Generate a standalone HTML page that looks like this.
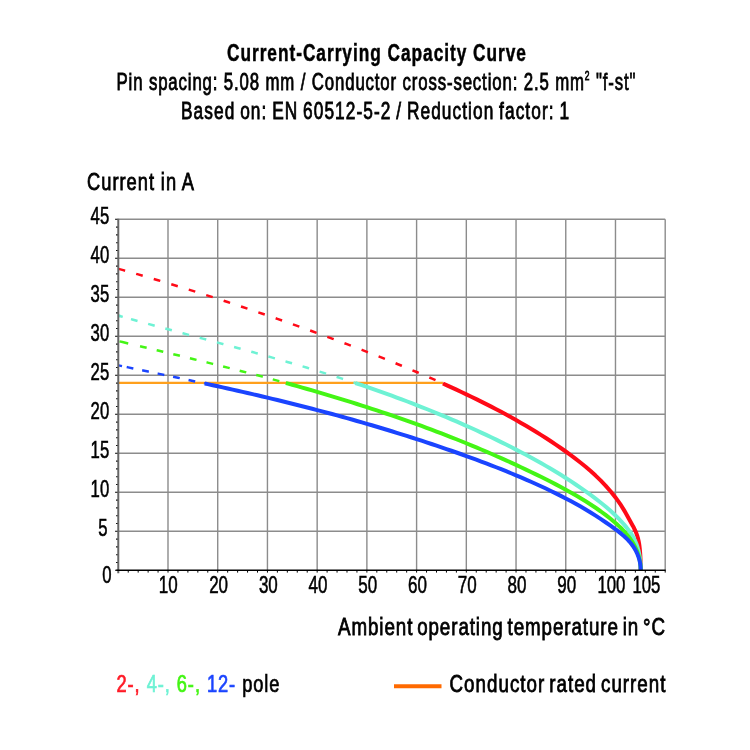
<!DOCTYPE html>
<html><head><meta charset="utf-8"><style>
html,body{margin:0;padding:0;background:#fff;}
svg{display:block;will-change:transform;}
text{font-family:'Liberation Sans',sans-serif;}

</style></head><body>
<svg width="750" height="750" viewBox="0 0 750 750">
<rect width="750" height="750" fill="#fff"/>
<path d="M168.00,219.30 V570.30 M217.72,219.30 V570.30 M267.44,219.30 V570.30 M317.16,219.30 V570.30 M366.88,219.30 V570.30 M416.60,219.30 V570.30 M466.32,219.30 V570.30 M516.04,219.30 V570.30 M565.76,219.30 V570.30 M615.48,219.30 V570.30 M665.20,219.30 V570.30 M118.28,531.30 H665.20 M118.28,492.30 H665.20 M118.28,453.30 H665.20 M118.28,414.30 H665.20 M118.28,375.30 H665.20 M118.28,336.30 H665.20 M118.28,297.30 H665.20 M118.28,258.30 H665.20 M118.28,219.30 H665.20" stroke="#8c8c8c" stroke-width="1.4" fill="none"/>
<path d="M115.08,570.30 H118.28 M116.08,562.50 H118.28 M116.08,554.70 H118.28 M116.08,546.90 H118.28 M116.08,539.10 H118.28 M115.08,531.30 H118.28 M116.08,523.50 H118.28 M116.08,515.70 H118.28 M116.08,507.90 H118.28 M116.08,500.10 H118.28 M115.08,492.30 H118.28 M116.08,484.50 H118.28 M116.08,476.70 H118.28 M116.08,468.90 H118.28 M116.08,461.10 H118.28 M115.08,453.30 H118.28 M116.08,445.50 H118.28 M116.08,437.70 H118.28 M116.08,429.90 H118.28 M116.08,422.10 H118.28 M115.08,414.30 H118.28 M116.08,406.50 H118.28 M116.08,398.70 H118.28 M116.08,390.90 H118.28 M116.08,383.10 H118.28 M115.08,375.30 H118.28 M116.08,367.50 H118.28 M116.08,359.70 H118.28 M116.08,351.90 H118.28 M116.08,344.10 H118.28 M115.08,336.30 H118.28 M116.08,328.50 H118.28 M116.08,320.70 H118.28 M116.08,312.90 H118.28 M116.08,305.10 H118.28 M115.08,297.30 H118.28 M116.08,289.50 H118.28 M116.08,281.70 H118.28 M116.08,273.90 H118.28 M116.08,266.10 H118.28 M115.08,258.30 H118.28 M116.08,250.50 H118.28 M116.08,242.70 H118.28 M116.08,234.90 H118.28 M116.08,227.10 H118.28 M115.08,219.30 H118.28" stroke="#000" stroke-width="1.1" fill="none"/>
<path d="M128.22,570.30 v2.3 M138.17,570.30 v2.3 M148.11,570.30 v2.3 M158.06,570.30 v2.3 M168.00,570.30 v2.3 M177.94,570.30 v2.3 M187.89,570.30 v2.3 M197.83,570.30 v2.3 M207.78,570.30 v2.3 M217.72,570.30 v2.3 M227.66,570.30 v2.3 M237.61,570.30 v2.3 M247.55,570.30 v2.3 M257.50,570.30 v2.3 M267.44,570.30 v2.3 M277.38,570.30 v2.3 M287.33,570.30 v2.3 M297.27,570.30 v2.3 M307.22,570.30 v2.3 M317.16,570.30 v2.3 M327.10,570.30 v2.3 M337.05,570.30 v2.3 M346.99,570.30 v2.3 M356.94,570.30 v2.3 M366.88,570.30 v2.3 M376.82,570.30 v2.3 M386.77,570.30 v2.3 M396.71,570.30 v2.3 M406.66,570.30 v2.3 M416.60,570.30 v2.3 M426.54,570.30 v2.3 M436.49,570.30 v2.3 M446.43,570.30 v2.3 M456.38,570.30 v2.3 M466.32,570.30 v2.3 M476.26,570.30 v2.3 M486.21,570.30 v2.3 M496.15,570.30 v2.3 M506.10,570.30 v2.3 M516.04,570.30 v2.3 M525.98,570.30 v2.3 M535.93,570.30 v2.3 M545.87,570.30 v2.3 M555.82,570.30 v2.3 M565.76,570.30 v2.3 M575.70,570.30 v2.3 M585.65,570.30 v2.3 M595.59,570.30 v2.3 M605.54,570.30 v2.3 M615.48,570.30 v2.3 M625.42,570.30 v2.3 M635.37,570.30 v2.3 M645.31,570.30 v2.3 M655.26,570.30 v2.3 M665.20,570.30 v2.3" stroke="#000" stroke-width="1" fill="none"/>
<path d="M118.28,382.85 H442.95" stroke="#ffa01c" stroke-width="2.4" fill="none"/>
<path d="M118.28,268.78 L123.25,270.17 L128.22,271.57 L133.20,272.98 L138.17,274.41 L143.14,275.84 L148.11,277.29 L153.08,278.76 L158.06,280.23 L163.03,281.72 L168.00,283.22 L172.97,284.73 L177.94,286.25 L182.92,287.78 L187.89,289.32 L192.86,290.88 L197.83,292.44 L202.80,294.02 L207.78,295.60 L212.75,297.20 L217.72,298.81 L222.69,300.42 L227.66,302.05 L232.64,303.69 L237.61,305.34 L242.58,307.00 L247.55,308.66 L252.52,310.34 L257.50,312.03 L262.47,313.72 L267.44,315.43 L272.41,317.15 L277.38,318.88 L282.36,320.61 L287.33,322.36 L292.30,324.12 L297.27,325.89 L302.24,327.67 L307.22,329.46 L312.19,331.25 L317.16,333.07 L322.13,334.89 L327.10,336.72 L332.08,338.56 L337.05,340.42 L342.02,342.29 L346.99,344.17 L351.96,346.06 L356.94,347.97 L361.91,349.89 L366.88,351.82 L371.85,353.77 L376.82,355.73 L381.80,357.71 L386.77,359.70 L391.74,361.71 L396.71,363.74 L401.68,365.78 L406.66,367.84 L411.63,369.92 L416.60,372.02 L421.57,374.14 L426.54,376.28 L431.52,378.45 L436.49,380.64 L441.46,382.85 L442.95,383.52" stroke="#ff0a17" stroke-width="2.5" fill="none" stroke-dasharray="6.8 11.50" stroke-dashoffset="18.0"/>
<path d="M118.28,315.60 L123.25,317.00 L128.22,318.40 L133.20,319.78 L138.17,321.16 L143.14,322.52 L148.11,323.88 L153.08,325.24 L158.06,326.59 L163.03,327.93 L168.00,329.27 L172.97,330.61 L177.94,331.94 L182.92,333.28 L187.89,334.61 L192.86,335.94 L197.83,337.27 L202.80,338.60 L207.78,339.93 L212.75,341.27 L217.72,342.60 L222.69,343.94 L227.66,345.29 L232.64,346.63 L237.61,347.99 L242.58,349.35 L247.55,350.71 L252.52,352.08 L257.50,353.46 L262.47,354.85 L267.44,356.25 L272.41,357.65 L277.38,359.07 L282.36,360.50 L287.33,361.94 L292.30,363.38 L297.27,364.85 L302.24,366.32 L307.22,367.81 L312.19,369.31 L317.16,370.83 L322.13,372.36 L327.10,373.91 L332.08,375.47 L337.05,377.05 L342.02,378.65 L346.99,380.26 L351.96,381.90 L355.25,382.99" stroke="#6ef2d4" stroke-width="2.5" fill="none" stroke-dasharray="6.8 11.00" stroke-dashoffset="4.62"/>
<path d="M118.53,315.67 L119.94,316.07 L121.35,316.47 L122.75,316.86" stroke="#6ef2d4" stroke-width="2.5" fill="none"/>
<path d="M130.21,343.93 L133.20,344.64 L138.17,345.82 L143.14,347.00 L148.11,348.18 L153.08,349.37 L158.06,350.55 L163.03,351.74 L168.00,352.93 L172.97,354.13 L177.94,355.33 L182.92,356.53 L187.89,357.74 L192.86,358.95 L197.83,360.17 L202.80,361.39 L207.78,362.62 L212.75,363.86 L217.72,365.10 L222.69,366.35 L227.66,367.61 L232.64,368.87 L237.61,370.15 L242.58,371.43 L247.55,372.72 L252.52,374.02 L257.50,375.33 L262.47,376.65 L267.44,377.97 L272.41,379.31 L277.38,380.66 L282.36,382.02 L285.84,382.98" stroke="#44f515" stroke-width="2.5" fill="none" stroke-dasharray="6.8 10.30" stroke-dashoffset="7.0"/>
<path d="M119.52,341.40 L122.42,342.09 L125.32,342.78 L128.22,343.46" stroke="#44f515" stroke-width="2.5" fill="none"/>
<path d="M118.28,365.33 L123.25,366.36 L128.22,367.40 L133.20,368.43 L138.17,369.46 L143.14,370.50 L148.11,371.53 L153.08,372.56 L158.06,373.60 L163.03,374.64 L168.00,375.68 L172.97,376.72 L177.94,377.77 L182.92,378.82 L187.89,379.88 L192.86,380.94 L197.83,382.00 L202.80,383.07 L204.79,383.50" stroke="#1a44ff" stroke-width="2.5" fill="none" stroke-dasharray="6.8 9.00" stroke-dashoffset="7.21"/>
<path d="M118.53,365.38 L119.69,365.62 L120.85,365.86 L122.01,366.10" stroke="#1a44ff" stroke-width="2.5" fill="none"/>
<path d="M442.95,383.52 L446.43,385.09 L451.40,387.35 L456.38,389.64 L461.35,391.97 L466.32,394.32 L471.29,396.71 L476.26,399.13 L481.24,401.59 L486.21,404.09 L491.18,406.63 L496.15,409.21 L501.12,411.84 L506.10,414.52 L511.07,417.26 L516.04,420.04 L521.01,422.89 L525.98,425.80 L530.96,428.76 L535.93,431.79 L540.90,434.89 L545.87,438.05 L550.84,441.28 L555.82,444.59 L560.79,447.99 L565.76,451.49 L570.73,455.10 L575.70,458.84 L580.68,462.73 L585.65,466.79 L590.62,471.06 L595.59,475.58 L600.56,480.39 L605.54,485.57 L610.51,491.21 L615.48,497.43 L616.72,499.10 L617.97,500.82 L619.21,502.60 L620.45,504.44 L621.70,506.35 L622.94,508.33 L624.18,510.40 L625.42,512.56 L626.67,514.78 L627.91,517.04 L629.15,519.28 L630.40,521.49 L631.64,523.69 L632.88,525.92 L634.12,528.28 L635.37,530.92 L635.62,531.50 L635.87,532.10 L636.11,532.71 L636.36,533.35 L636.61,534.01 L636.86,534.71 L637.11,535.43 L637.36,536.20 L637.61,537.02 L637.85,537.89 L638.10,538.84 L638.35,539.87 L638.60,541.00 L638.85,542.25 L639.10,543.67 L639.35,545.28 L639.59,547.16 L639.84,549.39 L640.09,552.13 L640.34,555.72 L640.59,561.16 L640.74,570.30" stroke="#ff0a17" stroke-width="4.0" fill="none" stroke-linejoin="round"/>
<path d="M355.25,382.99 L356.94,383.55 L361.91,385.22 L366.88,386.91 L371.85,388.63 L376.82,390.36 L381.80,392.12 L386.77,393.90 L391.74,395.70 L396.71,397.52 L401.68,399.37 L406.66,401.25 L411.63,403.15 L416.60,405.07 L421.57,407.02 L426.54,409.00 L431.52,411.01 L436.49,413.04 L441.46,415.10 L446.43,417.19 L451.40,419.30 L456.38,421.44 L461.35,423.62 L466.32,425.81 L471.29,428.04 L476.26,430.30 L481.24,432.60 L486.21,434.92 L491.18,437.27 L496.15,439.66 L501.12,442.09 L506.10,444.55 L511.07,447.06 L516.04,449.60 L521.01,452.18 L525.98,454.82 L530.96,457.50 L535.93,460.23 L540.90,463.01 L545.87,465.86 L550.84,468.77 L555.82,471.75 L560.79,474.81 L565.76,477.95 L570.73,481.18 L575.70,484.49 L580.68,487.89 L585.65,491.37 L590.62,494.95 L595.59,498.63 L600.56,502.47 L605.54,506.49 L610.51,510.78 L615.48,515.43 L616.72,516.66 L617.97,517.93 L619.21,519.22 L620.45,520.54 L621.70,521.88 L622.94,523.26 L624.18,524.67 L625.42,526.12 L626.67,527.62 L627.91,529.18 L629.15,530.83 L630.40,532.57 L631.64,534.46 L632.88,536.52 L634.12,538.81 L635.37,541.43 L635.62,542.00 L635.87,542.60 L636.11,543.21 L636.36,543.85 L636.61,544.51 L636.86,545.20 L637.11,545.92 L637.36,546.67 L637.61,547.46 L637.85,548.30 L638.10,549.18 L638.35,550.11 L638.60,551.11 L638.85,552.18 L639.10,553.33 L639.35,554.60 L639.59,556.00 L639.84,557.59 L640.09,559.45 L640.34,561.75 L640.59,565.04 L640.74,570.30" stroke="#6ef2d4" stroke-width="4.0" fill="none" stroke-linejoin="round"/>
<path d="M285.84,382.98 L287.33,383.39 L292.30,384.78 L297.27,386.17 L302.24,387.58 L307.22,389.00 L312.19,390.44 L317.16,391.88 L322.13,393.34 L327.10,394.82 L332.08,396.31 L337.05,397.81 L342.02,399.33 L346.99,400.86 L351.96,402.41 L356.94,403.98 L361.91,405.56 L366.88,407.16 L371.85,408.78 L376.82,410.41 L381.80,412.06 L386.77,413.73 L391.74,415.42 L396.71,417.13 L401.68,418.85 L406.66,420.60 L411.63,422.37 L416.60,424.15 L421.57,425.96 L426.54,427.79 L431.52,429.64 L436.49,431.52 L441.46,433.42 L446.43,435.34 L451.40,437.28 L456.38,439.25 L461.35,441.25 L466.32,443.27 L471.29,445.32 L476.26,447.40 L481.24,449.50 L486.21,451.63 L491.18,453.78 L496.15,455.96 L501.12,458.16 L506.10,460.39 L511.07,462.64 L516.04,464.92 L521.01,467.23 L525.98,469.57 L530.96,471.94 L535.93,474.34 L540.90,476.78 L545.87,479.26 L550.84,481.79 L555.82,484.36 L560.79,486.99 L565.76,489.69 L570.73,492.45 L575.70,495.30 L580.68,498.23 L585.65,501.28 L590.62,504.45 L595.59,507.77 L600.56,511.24 L605.54,514.89 L610.51,518.76 L615.48,522.93 L616.72,524.03 L617.97,525.16 L619.21,526.33 L620.45,527.52 L621.70,528.76 L622.94,530.04 L624.18,531.37 L625.42,532.75 L626.67,534.20 L627.91,535.72 L629.15,537.33 L630.40,539.04 L631.64,540.87 L632.88,542.84 L634.12,545.01 L635.37,547.41 L635.62,547.92 L635.87,548.45 L636.11,549.00 L636.36,549.56 L636.61,550.14 L636.86,550.74 L637.11,551.36 L637.36,552.00 L637.61,552.67 L637.85,553.37 L638.10,554.10 L638.35,554.87 L638.60,555.68 L638.85,556.54 L639.10,557.46 L639.35,558.46 L639.59,559.56 L639.84,560.79 L640.09,562.21 L640.34,563.95 L640.59,566.41 L640.74,570.30" stroke="#44f515" stroke-width="4.0" fill="none" stroke-linejoin="round"/>
<path d="M204.79,383.50 L207.78,384.15 L212.75,385.23 L217.72,386.32 L222.69,387.41 L227.66,388.52 L232.64,389.63 L237.61,390.75 L242.58,391.88 L247.55,393.01 L252.52,394.16 L257.50,395.31 L262.47,396.48 L267.44,397.65 L272.41,398.84 L277.38,400.04 L282.36,401.25 L287.33,402.47 L292.30,403.70 L297.27,404.95 L302.24,406.21 L307.22,407.48 L312.19,408.76 L317.16,410.06 L322.13,411.37 L327.10,412.70 L332.08,414.04 L337.05,415.40 L342.02,416.77 L346.99,418.15 L351.96,419.55 L356.94,420.96 L361.91,422.39 L366.88,423.83 L371.85,425.29 L376.82,426.76 L381.80,428.25 L386.77,429.75 L391.74,431.27 L396.71,432.80 L401.68,434.35 L406.66,435.91 L411.63,437.49 L416.60,439.09 L421.57,440.70 L426.54,442.34 L431.52,443.98 L436.49,445.65 L441.46,447.33 L446.43,449.04 L451.40,450.76 L456.38,452.50 L461.35,454.26 L466.32,456.05 L471.29,457.85 L476.26,459.68 L481.24,461.53 L486.21,463.41 L491.18,465.31 L496.15,467.24 L501.12,469.21 L506.10,471.20 L511.07,473.23 L516.04,475.30 L521.01,477.40 L525.98,479.54 L530.96,481.72 L535.93,483.95 L540.90,486.23 L545.87,488.55 L550.84,490.93 L555.82,493.37 L560.79,495.87 L565.76,498.44 L570.73,501.08 L575.70,503.80 L580.68,506.61 L585.65,509.52 L590.62,512.54 L595.59,515.67 L600.56,518.91 L605.54,522.23 L610.51,525.66 L615.48,529.26 L616.72,530.19 L617.97,531.15 L619.21,532.12 L620.45,533.12 L621.70,534.15 L622.94,535.22 L624.18,536.32 L625.42,537.47 L626.67,538.67 L627.91,539.94 L629.15,541.28 L630.40,542.71 L631.64,544.26 L632.88,545.95 L634.12,547.82 L635.37,549.94 L635.62,550.40 L635.87,550.87 L636.11,551.35 L636.36,551.85 L636.61,552.37 L636.86,552.91 L637.11,553.46 L637.36,554.04 L637.61,554.64 L637.85,555.26 L638.10,555.92 L638.35,556.61 L638.60,557.33 L638.85,558.11 L639.10,558.94 L639.35,559.83 L639.59,560.81 L639.84,561.90 L640.09,563.16 L640.34,564.70 L640.59,566.87 L640.74,570.30" stroke="#1a44ff" stroke-width="4.0" fill="none" stroke-linejoin="round"/>
<path d="M118.28,218.80 V573.30" stroke="#666" stroke-width="2" fill="none"/>
<path d="M116.28,570.30 H665.70" stroke="#000" stroke-width="1.6" fill="none"/>
<text transform="translate(227,61) scale(0.70,1)" x="0" y="0" font-size="24.7" font-weight="bold" fill="#000" stroke="#000" stroke-width="0.45" vector-effect="non-scaling-stroke" textLength="427.14" lengthAdjust="spacing">Current-Carrying Capacity Curve</text>
<text transform="translate(116.5,89.6) scale(0.68,1)" x="0" y="0" font-size="24.7" fill="#000" stroke="#000" stroke-width="0.75" vector-effect="non-scaling-stroke" text-anchor="start" word-spacing="0" textLength="763.24" lengthAdjust="spacing">Pin spacing: 5.08 mm / Conductor cross-section: 2.5 mm<tspan font-size="12.5" dy="-9.5">2</tspan><tspan dy="9.5"> "f-st"</tspan></text>
<text transform="translate(181,119) scale(0.7,1)" x="0" y="0" font-size="24.7" fill="#000" stroke="#000" stroke-width="0.75" vector-effect="non-scaling-stroke" text-anchor="start" word-spacing="-1.5" textLength="554.29" lengthAdjust="spacing">Based on: EN 60512-5-2 / Reduction factor: 1</text>
<text transform="translate(87,190.3) scale(0.74,1)" x="0" y="0" font-size="24.7" fill="#000" stroke="#000" stroke-width="0.75" vector-effect="non-scaling-stroke" text-anchor="start" word-spacing="-0.5" textLength="144.59" lengthAdjust="spacing">Current in A</text>
<text x="109.2" y="497.09999999999997" font-size="24.7" font-weight="normal" fill="#000" stroke="#000" stroke-width="0.6" text-anchor="end" textLength="18.6" lengthAdjust="spacingAndGlyphs" >10</text>
<text x="109.2" y="458.09999999999997" font-size="24.7" font-weight="normal" fill="#000" stroke="#000" stroke-width="0.6" text-anchor="end" textLength="18.6" lengthAdjust="spacingAndGlyphs" >15</text>
<text x="109.2" y="419.09999999999997" font-size="24.7" font-weight="normal" fill="#000" stroke="#000" stroke-width="0.6" text-anchor="end" textLength="18.6" lengthAdjust="spacingAndGlyphs" >20</text>
<text x="109.2" y="380.09999999999997" font-size="24.7" font-weight="normal" fill="#000" stroke="#000" stroke-width="0.6" text-anchor="end" textLength="18.6" lengthAdjust="spacingAndGlyphs" >25</text>
<text x="109.2" y="341.09999999999997" font-size="24.7" font-weight="normal" fill="#000" stroke="#000" stroke-width="0.6" text-anchor="end" textLength="18.6" lengthAdjust="spacingAndGlyphs" >30</text>
<text x="109.2" y="302.09999999999997" font-size="24.7" font-weight="normal" fill="#000" stroke="#000" stroke-width="0.6" text-anchor="end" textLength="18.6" lengthAdjust="spacingAndGlyphs" >35</text>
<text x="109.2" y="263.09999999999997" font-size="24.7" font-weight="normal" fill="#000" stroke="#000" stroke-width="0.6" text-anchor="end" textLength="18.6" lengthAdjust="spacingAndGlyphs" >40</text>
<text x="109.2" y="224.09999999999997" font-size="24.7" font-weight="normal" fill="#000" stroke="#000" stroke-width="0.6" text-anchor="end" textLength="18.6" lengthAdjust="spacingAndGlyphs" >45</text>
<text x="102.9" y="536.0999999999999" font-size="24.7" font-weight="normal" fill="#000" stroke="#000" stroke-width="0.6" text-anchor="middle" textLength="9.3" lengthAdjust="spacingAndGlyphs" >5</text>
<text x="106.9" y="583" font-size="24.7" font-weight="normal" fill="#000" stroke="#000" stroke-width="0.6" text-anchor="middle" textLength="9.3" lengthAdjust="spacingAndGlyphs" >0</text>
<text x="168.2" y="593" font-size="24.7" font-weight="normal" fill="#000" stroke="#000" stroke-width="0.6" text-anchor="middle" textLength="18.9" lengthAdjust="spacingAndGlyphs" >10</text>
<text x="218.62" y="593" font-size="24.7" font-weight="normal" fill="#000" stroke="#000" stroke-width="0.6" text-anchor="middle" textLength="18.9" lengthAdjust="spacingAndGlyphs" >20</text>
<text x="268.34" y="593" font-size="24.7" font-weight="normal" fill="#000" stroke="#000" stroke-width="0.6" text-anchor="middle" textLength="18.9" lengthAdjust="spacingAndGlyphs" >30</text>
<text x="318.06" y="593" font-size="24.7" font-weight="normal" fill="#000" stroke="#000" stroke-width="0.6" text-anchor="middle" textLength="18.9" lengthAdjust="spacingAndGlyphs" >40</text>
<text x="367.78" y="593" font-size="24.7" font-weight="normal" fill="#000" stroke="#000" stroke-width="0.6" text-anchor="middle" textLength="18.9" lengthAdjust="spacingAndGlyphs" >50</text>
<text x="417.5" y="593" font-size="24.7" font-weight="normal" fill="#000" stroke="#000" stroke-width="0.6" text-anchor="middle" textLength="18.9" lengthAdjust="spacingAndGlyphs" >60</text>
<text x="467.22" y="593" font-size="24.7" font-weight="normal" fill="#000" stroke="#000" stroke-width="0.6" text-anchor="middle" textLength="18.9" lengthAdjust="spacingAndGlyphs" >70</text>
<text x="516.94" y="593" font-size="24.7" font-weight="normal" fill="#000" stroke="#000" stroke-width="0.6" text-anchor="middle" textLength="18.9" lengthAdjust="spacingAndGlyphs" >80</text>
<text x="566.66" y="593" font-size="24.7" font-weight="normal" fill="#000" stroke="#000" stroke-width="0.6" text-anchor="middle" textLength="18.9" lengthAdjust="spacingAndGlyphs" >90</text>
<text x="611.4" y="593" font-size="24.7" font-weight="normal" fill="#000" stroke="#000" stroke-width="0.6" text-anchor="middle" textLength="28" lengthAdjust="spacingAndGlyphs" >100</text>
<text x="646.4" y="593" font-size="24.7" font-weight="normal" fill="#000" stroke="#000" stroke-width="0.6" text-anchor="middle" textLength="28" lengthAdjust="spacingAndGlyphs" >105</text>
<text transform="translate(338,634.8) scale(0.76,1)" x="0" y="0" font-size="24.7" fill="#000" stroke="#000" stroke-width="0.75" vector-effect="non-scaling-stroke" text-anchor="start" word-spacing="-3" textLength="430.26" lengthAdjust="spacing">Ambient operating temperature in °C</text>
<text transform="translate(116.5,691.8) scale(0.74,1)" x="0" y="0" font-size="24.7" word-spacing="0" textLength="220.27" lengthAdjust="spacing" stroke-width="0.75" vector-effect="non-scaling-stroke"><tspan fill="#ff1a26" stroke="#ff1a26">2-, </tspan><tspan fill="#6ef2d4" stroke="#6ef2d4">4-, </tspan><tspan fill="#44f515" stroke="#44f515">6-, </tspan><tspan fill="#1a44ff" stroke="#1a44ff">12-</tspan><tspan fill="#000" stroke="#000">  pole</tspan></text>
<path d="M394,686.3 H441.5" stroke="#ff6a00" stroke-width="4"/>
<text transform="translate(449.5,691.6) scale(0.76,1)" x="0" y="0" font-size="24.7" fill="#000" stroke="#000" stroke-width="0.75" vector-effect="non-scaling-stroke" text-anchor="start" word-spacing="-3" textLength="284.21" lengthAdjust="spacing">Conductor rated current</text>
</svg>
</body></html>
